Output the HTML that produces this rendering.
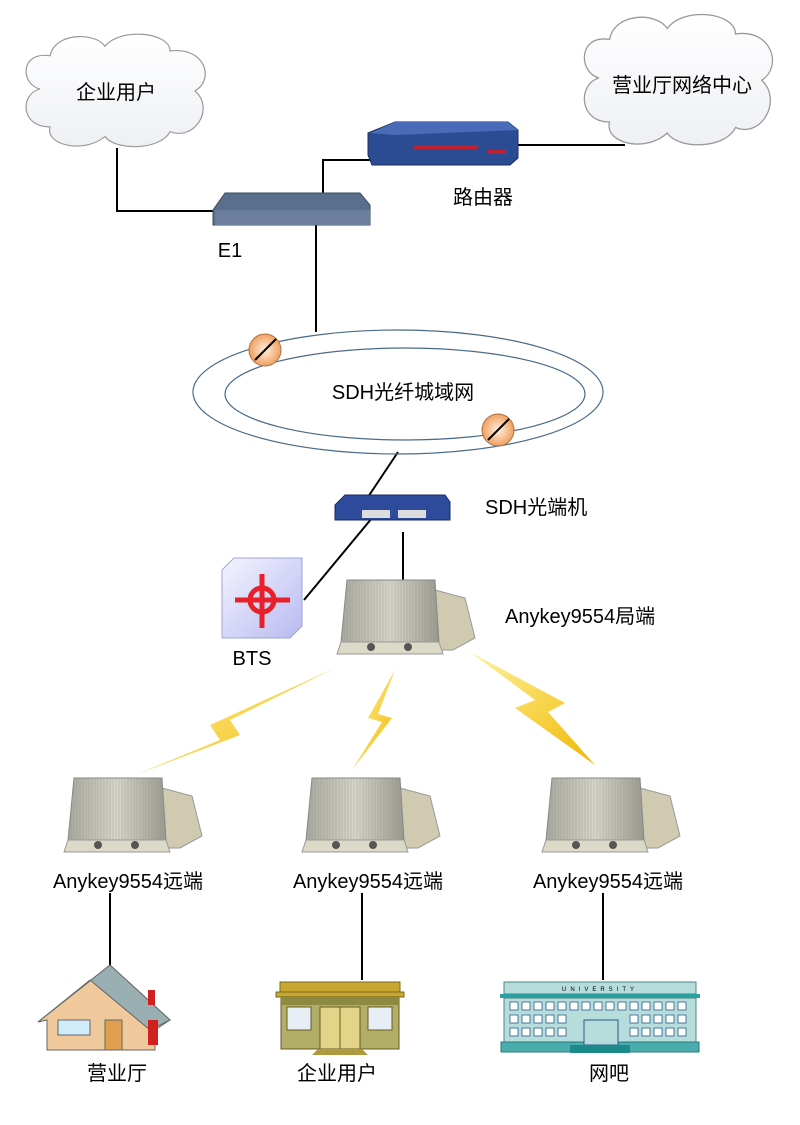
<!DOCTYPE html>
<html><head><meta charset="utf-8"><style>
body{margin:0;background:#fff}
svg text{font-family:"Liberation Sans","Noto Sans CJK SC",sans-serif;fill:#000}
</style></head><body>
<svg width="800" height="1120" viewBox="0 0 800 1120" xmlns="http://www.w3.org/2000/svg">
<defs>
<linearGradient id="cl" x1="0" y1="0" x2="0" y2="1"><stop offset="0" stop-color="#fff"/><stop offset="1" stop-color="#eef0f4"/></linearGradient>
<linearGradient id="fin" x1="0" y1="0" x2="1" y2="0"><stop offset="0" stop-color="#a8a89c"/><stop offset=".5" stop-color="#d6d6cc"/><stop offset="1" stop-color="#9a9a8e"/></linearGradient>
<pattern id="fins" width="3" height="10" patternUnits="userSpaceOnUse"><rect width="3" height="10" fill="none"/><line x1="1" y1="0" x2="1" y2="10" stroke="#8a8a80" stroke-width="0.6" opacity="0.5"/></pattern>
<linearGradient id="bolt" x1="0" y1="0" x2="1" y2="1"><stop offset="0" stop-color="#fff3a0"/><stop offset="1" stop-color="#f0b800"/></linearGradient>
<radialGradient id="opt"><stop offset="0" stop-color="#fff0e0"/><stop offset="1" stop-color="#f0a060"/></radialGradient>
<linearGradient id="cube" x1="0" y1="0" x2="1" y2="1"><stop offset="0" stop-color="#f4f4ff"/><stop offset="1" stop-color="#b8baf0"/></linearGradient>
<g id="dev">
<path d="M92 10 L122 18 L132 58 L110 70 L92 70 Z" fill="#cfcab0" stroke="#999"/>
<path d="M4 0 L92 0 L96 62 L-2 62Z" fill="url(#fin)" stroke="#888"/>
<path d="M4 0 L92 0 L96 62 L-2 62Z" fill="url(#fins)"/>
<path d="M-2 62 L96 62 L100 74 L-6 74 Z" fill="#ddd9c8" stroke="#999"/>
<circle cx="28" cy="67" r="4" fill="#555"/><circle cx="65" cy="67" r="4" fill="#555"/>
</g>
<g id="cloud">
<path d="M20 60 C0 55 0 20 30 25 C35 0 75 0 85 15 C100 -5 150 0 150 20 C185 15 195 50 175 62 C195 80 175 115 150 105 C140 125 95 125 85 110 C65 128 25 120 30 100 C0 100 0 65 20 60Z" fill="url(#cl)" stroke="#999" stroke-width="1.2"/>
</g>
</defs>

<use href="#cloud" transform="translate(20,32) scale(1.0,0.95)"/>
<use href="#cloud" transform="translate(578,12) scale(1.05,1.1)"/>
<text x="116" y="99" font-size="20" text-anchor="middle">企业用户</text>
<text x="682" y="92" font-size="20" text-anchor="middle">营业厅网络中心</text>

<g stroke="#000" stroke-width="2" fill="none">
<polyline points="117,148 117,211 215,211"/>
<polyline points="323,193 323,160 437,160"/>
<line x1="515" y1="145" x2="625" y2="145"/>
<line x1="316" y1="225" x2="316" y2="332"/>
<line x1="398" y1="452" x2="368" y2="497"/>
<line x1="372" y1="518" x2="304" y2="600"/>
<line x1="403" y1="532" x2="403" y2="580"/>
<line x1="110" y1="893" x2="110" y2="968"/>
<line x1="362" y1="893" x2="362" y2="980"/>
<line x1="603" y1="893" x2="603" y2="980"/>
</g>

<path d="M368 133 L395 122 L508 122 L518 130 L518 158 L510 165 L372 165 L368 155Z" fill="#2b4c92" stroke="#1a2f60"/>
<path d="M370 133 L395 122 L508 122 L518 130 L395 135Z" fill="#4a6cb8"/>
<rect x="414" y="145" width="64" height="4" fill="#c02030"/>
<rect x="488" y="150" width="18" height="4" fill="#c02030"/>
<text x="483" y="204" font-size="20" text-anchor="middle">路由器</text>
<path d="M213 210 L225 193 L360 193 L370 205 L370 225 L213 225Z" fill="#5a6f8c" stroke="#3a4a60"/>
<rect x="215" y="210" width="155" height="15" fill="#6b7f9c"/>
<text x="230" y="257" font-size="20" text-anchor="middle">E1</text>

<ellipse cx="398" cy="392" rx="205" ry="62" fill="none" stroke="#4a6a8a" stroke-width="1.2"/>
<ellipse cx="405" cy="394" rx="180" ry="46" fill="none" stroke="#4a6a8a" stroke-width="1.2"/>
<text x="403" y="399" font-size="20" text-anchor="middle">SDH光纤城域网</text>
<circle cx="265" cy="350" r="16" fill="url(#opt)" stroke="#b07040"/>
<line x1="255" y1="360" x2="276" y2="339" stroke="#000" stroke-width="2"/>
<circle cx="498" cy="430" r="16" fill="url(#opt)" stroke="#b07040"/>
<line x1="488" y1="440" x2="509" y2="419" stroke="#000" stroke-width="2"/>

<path d="M335 505 L345 495 L445 495 L450 502 L450 520 L335 520Z" fill="#2e4a9a" stroke="#1a2a60"/>
<rect x="362" y="510" width="28" height="8" fill="#ddd"/><rect x="398" y="510" width="28" height="8" fill="#ddd"/>
<text x="485" y="514" font-size="20">SDH光端机</text>

<path d="M222 570 L234 558 L302 558 L302 626 L290 638 L222 638Z" fill="url(#cube)" stroke="#a0a4d8"/>
<g stroke="#e8202a" stroke-width="5" fill="none"><circle cx="262" cy="600" r="12"/><line x1="235" y1="600" x2="290" y2="600"/><line x1="262" y1="574" x2="262" y2="628"/></g>
<text x="252" y="665" font-size="20" text-anchor="middle">BTS</text>

<use href="#dev" transform="translate(343,580)"/>
<text x="505" y="623" font-size="20">Anykey9554局端</text>

<path d="M335 668 L230 720 L240 735 L135 775 L220 740 L210 725Z" fill="url(#bolt)"/>
<path d="M395 670 L368 718 L382 722 L352 770 L392 718 L378 714Z" fill="url(#bolt)"/>
<path d="M470 652 L535 700 L515 708 L595 765 L548 712 L565 703Z" fill="url(#bolt)"/>

<use href="#dev" transform="translate(70,778)"/>
<use href="#dev" transform="translate(308,778)"/>
<use href="#dev" transform="translate(548,778)"/>
<text x="128" y="888" font-size="20" text-anchor="middle">Anykey9554远端</text>
<text x="368" y="888" font-size="20" text-anchor="middle">Anykey9554远端</text>
<text x="608" y="888" font-size="20" text-anchor="middle">Anykey9554远端</text>

<path d="M38 1022 L110 965 L170 1020 L155 1030 L155 1050 L47 1050 L47 1020Z" fill="#efc89c" stroke="#666"/>
<path d="M38 1022 L110 965 L170 1020 L150 1030 L90 980Z" fill="#9aafb2" stroke="#666"/>
<rect x="148" y="990" width="7" height="15" fill="#d02020"/>
<rect x="148" y="1020" width="10" height="25" fill="#d02020"/>
<rect x="58" y="1020" width="32" height="15" fill="#d0ecfa" stroke="#666"/>
<rect x="105" y="1020" width="17" height="30" fill="#e0a050" stroke="#666"/>
<text x="117" y="1080" font-size="20" text-anchor="middle">营业厅</text>

<rect x="280" y="982" width="120" height="10" fill="#c8a830" stroke="#7a6a20"/>
<rect x="276" y="992" width="128" height="5" fill="#c8a830" stroke="#7a6a20"/>
<rect x="281" y="997" width="118" height="52" fill="#b0ae68" stroke="#6a5a20"/>
<rect x="281" y="997" width="118" height="8" fill="#8c8a40"/>
<rect x="287" y="1007" width="24" height="23" fill="#e8eef6" stroke="#6a5a20"/>
<rect x="368" y="1007" width="24" height="23" fill="#e8eef6" stroke="#6a5a20"/>
<rect x="320" y="1007" width="40" height="42" fill="#e4d488" stroke="#6a5a20"/>
<line x1="340" y1="1007" x2="340" y2="1049" stroke="#6a5a20"/>
<path d="M318 1049 L362 1049 L368 1055 L312 1055Z" fill="#b09a40"/>
<text x="337" y="1080" font-size="20" text-anchor="middle">企业用户</text>

<rect x="504" y="982" width="192" height="12" fill="#b6dcdc" stroke="#4a8888"/>
<rect x="500" y="994" width="200" height="4" fill="#2aa0a0"/>
<rect x="504" y="998" width="192" height="45" fill="#b6dcdc" stroke="#4a8888"/>
<rect x="501" y="1042" width="198" height="10" fill="#4aacac" stroke="#2a7a7a"/>
<g fill="#fff" stroke="#2a5a8a" stroke-width="0.8">
<rect x="510" y="1002" width="8" height="8"/><rect x="522" y="1002" width="8" height="8"/><rect x="534" y="1002" width="8" height="8"/><rect x="546" y="1002" width="8" height="8"/><rect x="558" y="1002" width="8" height="8"/><rect x="570" y="1002" width="8" height="8"/><rect x="582" y="1002" width="8" height="8"/><rect x="594" y="1002" width="8" height="8"/><rect x="606" y="1002" width="8" height="8"/><rect x="618" y="1002" width="8" height="8"/><rect x="630" y="1002" width="8" height="8"/><rect x="642" y="1002" width="8" height="8"/><rect x="654" y="1002" width="8" height="8"/><rect x="666" y="1002" width="8" height="8"/><rect x="678" y="1002" width="8" height="8"/>
<rect x="510" y="1015" width="8" height="8"/><rect x="522" y="1015" width="8" height="8"/><rect x="534" y="1015" width="8" height="8"/><rect x="546" y="1015" width="8" height="8"/><rect x="558" y="1015" width="8" height="8"/><rect x="630" y="1015" width="8" height="8"/><rect x="642" y="1015" width="8" height="8"/><rect x="654" y="1015" width="8" height="8"/><rect x="666" y="1015" width="8" height="8"/><rect x="678" y="1015" width="8" height="8"/>
<rect x="510" y="1028" width="8" height="8"/><rect x="522" y="1028" width="8" height="8"/><rect x="534" y="1028" width="8" height="8"/><rect x="546" y="1028" width="8" height="8"/><rect x="558" y="1028" width="8" height="8"/><rect x="630" y="1028" width="8" height="8"/><rect x="642" y="1028" width="8" height="8"/><rect x="654" y="1028" width="8" height="8"/><rect x="666" y="1028" width="8" height="8"/><rect x="678" y="1028" width="8" height="8"/>
</g>
<rect x="584" y="1020" width="34" height="25" fill="#b6dcdc" stroke="#2a5a8a"/>
<rect x="570" y="1045" width="60" height="8" fill="#1a8a8a"/>
<text x="600" y="991" font-size="6" text-anchor="middle" letter-spacing="4" fill="#555">UNIVERSITY</text>
<text x="609" y="1080" font-size="20" text-anchor="middle">网吧</text>
</svg>
</body></html>
